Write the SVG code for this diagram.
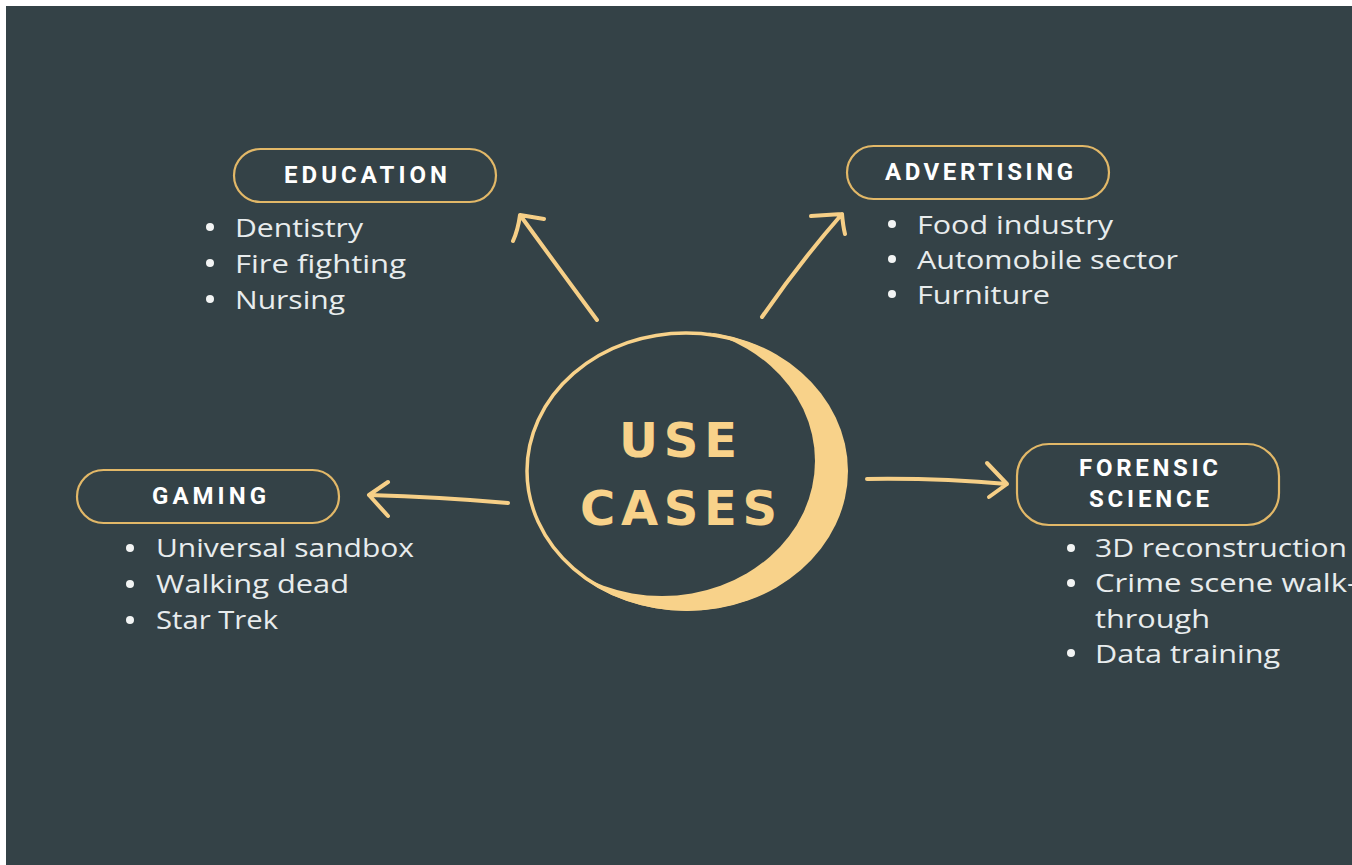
<svg xmlns="http://www.w3.org/2000/svg" width="1352" height="865" viewBox="0 0 1352 865">
<style>
.pill{fill:none;stroke:#e2b868;stroke-width:2.2}
.hd{font-family:Roboto,"Liberation Sans",sans-serif;font-weight:700;font-size:24px;fill:#ffffff}
.li{font-family:"Open Sans","Noto Sans",sans-serif;font-size:26px;fill:#e8eced}
.bul{fill:#f2f4f4}
.arr{fill:none;stroke:#f6cf87;stroke-width:4;stroke-linecap:round;stroke-linejoin:round}
.big{font-family:"DejaVu Sans",sans-serif;font-weight:700;font-size:48px;fill:#f8d28a}
</style>
<defs>
<mask id="cres">
<ellipse cx="687" cy="471" rx="161" ry="140" fill="#fff"/>
<ellipse cx="662" cy="461" rx="153" ry="135" fill="#000"/>
</mask>
</defs>
<rect width="1352" height="865" fill="#ffffff"/>
<rect x="6" y="6" width="1346" height="859" fill="#344247"/>

<g id="connectors">
<path class="arr" d="M597 320 Q560 270 520 215 M520 215 L544 219 M520 215 Q518 230 513 241"/>
<path class="arr" d="M762 317 Q800 262 842 214 M842 214 L811 216 M842 214 Q843 226 845 234"/>
<path class="arr" d="M508 503 Q440 497 369 495 M369 495 L388 482 M369 495 L388 516"/>
<path class="arr" d="M867 479 Q940 478 1007 484 M1007 484 L987 463 M1007 484 L989 497"/>
</g>

<g id="center">
<ellipse cx="686" cy="471" rx="159" ry="138" fill="none" stroke="#f8d28a" stroke-width="3.5"/>
<rect x="520" y="325" width="335" height="295" fill="#f8d28a" mask="url(#cres)"/>
<text class="big" x="619" y="457" textLength="118" lengthAdjust="spacing">USE</text>
<text class="big" x="580" y="525" textLength="197" lengthAdjust="spacing">CASES</text>
</g>

<g id="education">
<rect class="pill" x="234" y="149" width="262" height="53" rx="26.5"/>
<text class="hd" x="284" y="183" textLength="163" lengthAdjust="spacing">EDUCATION</text>
<circle class="bul" cx="210" cy="227" r="4"/>
<circle class="bul" cx="210" cy="263" r="4"/>
<circle class="bul" cx="210" cy="299" r="4"/>
<text class="li" x="235" y="237" textLength="128" lengthAdjust="spacingAndGlyphs">Dentistry</text>
<text class="li" x="235" y="273" textLength="171" lengthAdjust="spacingAndGlyphs">Fire fighting</text>
<text class="li" x="235" y="309" textLength="110" lengthAdjust="spacingAndGlyphs">Nursing</text>
</g>

<g id="advertising">
<rect class="pill" x="847" y="146" width="262" height="53" rx="26.5"/>
<text class="hd" x="885" y="180" textLength="188" lengthAdjust="spacing">ADVERTISING</text>
<circle class="bul" cx="892" cy="224" r="4"/>
<circle class="bul" cx="892" cy="259" r="4"/>
<circle class="bul" cx="892" cy="294" r="4"/>
<text class="li" x="917" y="234" textLength="196" lengthAdjust="spacingAndGlyphs">Food industry</text>
<text class="li" x="917" y="269" textLength="261" lengthAdjust="spacingAndGlyphs">Automobile sector</text>
<text class="li" x="917" y="304" textLength="133" lengthAdjust="spacingAndGlyphs">Furniture</text>
</g>

<g id="gaming">
<rect class="pill" x="77" y="470" width="262" height="53" rx="26.5"/>
<text class="hd" x="152" y="504" textLength="114" lengthAdjust="spacing">GAMING</text>
<circle class="bul" cx="130" cy="548" r="4"/>
<circle class="bul" cx="130" cy="584" r="4"/>
<circle class="bul" cx="130" cy="620" r="4"/>
<text class="li" x="156" y="557" textLength="258" lengthAdjust="spacingAndGlyphs">Universal sandbox</text>
<text class="li" x="156" y="593" textLength="193" lengthAdjust="spacingAndGlyphs">Walking dead</text>
<text class="li" x="156" y="629" textLength="122" lengthAdjust="spacingAndGlyphs">Star Trek</text>
</g>

<g id="forensic">
<rect class="pill" x="1017" y="444" width="262" height="81" rx="32"/>
<text class="hd" x="1079" y="476" textLength="139" lengthAdjust="spacing">FORENSIC</text>
<text class="hd" x="1089" y="507" textLength="120" lengthAdjust="spacing">SCIENCE</text>
<circle class="bul" cx="1071" cy="548" r="4"/>
<circle class="bul" cx="1071" cy="583" r="4"/>
<circle class="bul" cx="1071" cy="653" r="4"/>
<text class="li" x="1095" y="557" textLength="252" lengthAdjust="spacingAndGlyphs">3D reconstruction</text>
<text class="li" x="1095" y="592" textLength="262" lengthAdjust="spacingAndGlyphs">Crime scene walk-</text>
<text class="li" x="1095" y="628" textLength="115" lengthAdjust="spacingAndGlyphs">through</text>
<text class="li" x="1095" y="663" textLength="185" lengthAdjust="spacingAndGlyphs">Data training</text>
</g>
</svg>
